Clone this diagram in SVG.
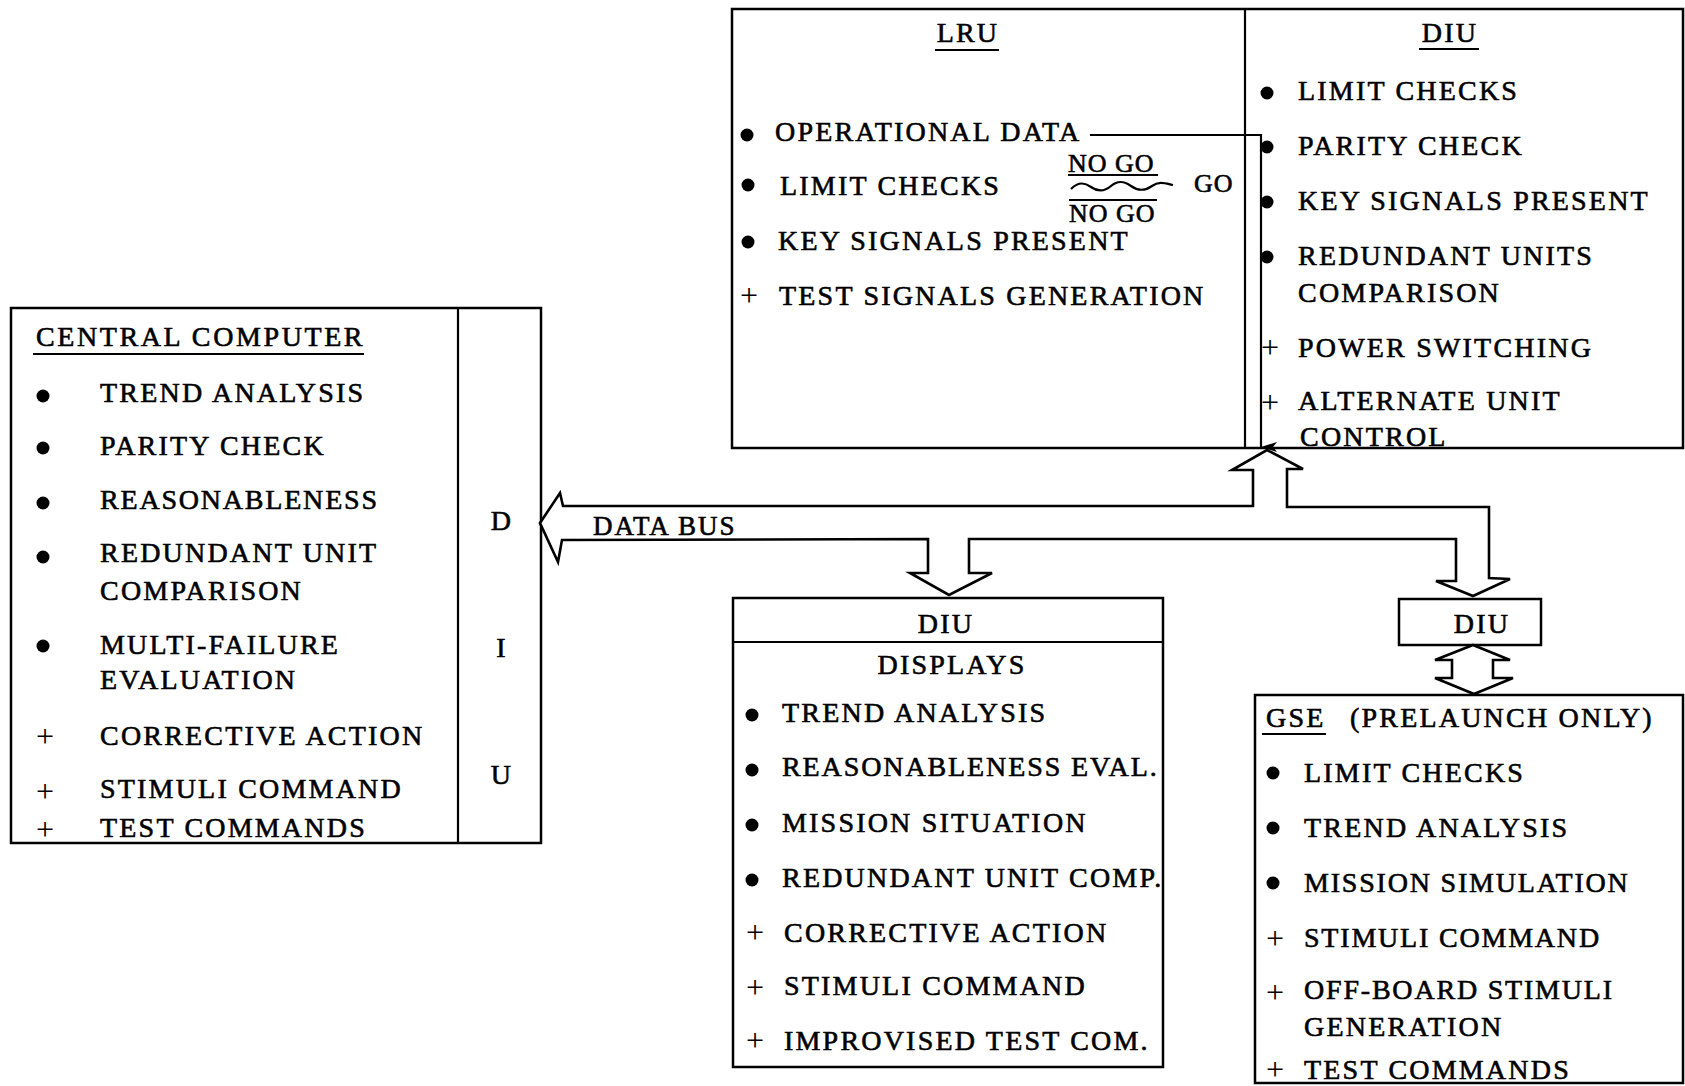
<svg xmlns="http://www.w3.org/2000/svg" width="1685" height="1086" viewBox="0 0 1685 1086">
<defs>
<style>
.t{font-family:"Liberation Serif","Times New Roman",serif;font-size:28px;letter-spacing:2.2px;fill:#000;stroke:#000;stroke-width:0.6px}
.s{font-size:26px;letter-spacing:1px}
.c{text-anchor:middle}
.p{font-family:"Liberation Serif",serif;font-size:32px;fill:#000;text-anchor:middle}
.box{fill:#fff;stroke:#000;stroke-width:2.5}
.ln{fill:none;stroke:#000;stroke-width:2.2}
.bus{fill:#fff;stroke:#000;stroke-width:2.6;stroke-linejoin:miter}
</style>
<marker id="ah" markerWidth="12" markerHeight="18" refX="6" refY="17" orient="auto-start-reverse" markerUnits="userSpaceOnUse" viewBox="0 0 12 18">
<path d="M6,17 L1,1 L6,5 L11,1 Z" fill="#000"/>
</marker>
</defs>
<rect width="1685" height="1086" fill="#fff"/>

<g id="node-lru-diu">
<rect class="box" x="732" y="9" width="951" height="439"/>
<line class="ln" x1="1245" y1="9" x2="1245" y2="448"/>
<g id="lru">
<text class="t c" x="968" y="42">LRU</text>
<line class="ln" x1="935" y1="50" x2="999" y2="50"/>
<circle cx="747" cy="135" r="6.5"/>
<text class="t" x="775" y="141">OPERATIONAL DATA</text>
<circle cx="748" cy="185" r="6.5"/>
<text class="t" x="780" y="195">LIMIT CHECKS</text>
<text class="t s" x="1068" y="172">NO GO</text>
<line class="ln" x1="1068" y1="175" x2="1158" y2="175"/>
<path class="ln" d="M1071,189 C1078,182 1084,182 1091,187 S1104,192 1111,186 S1124,181 1131,186 S1145,191 1152,186 S1164,183 1173,185"/>
<text class="t s" x="1194" y="192">GO</text>
<line class="ln" x1="1069" y1="200" x2="1157" y2="200"/>
<text class="t s" x="1069" y="222">NO GO</text>
<circle cx="748" cy="242" r="6.5"/>
<text class="t" x="778" y="250">KEY SIGNALS PRESENT</text>
<text class="p" x="749" y="306">+</text>
<text class="t" x="779" y="305">TEST SIGNALS GENERATION</text>
</g>
<g id="diu-top">
<text class="t c" x="1450" y="42">DIU</text>
<line class="ln" x1="1419" y1="49" x2="1479" y2="49"/>
<circle cx="1267" cy="93" r="6.5"/>
<text class="t" x="1298" y="100">LIMIT CHECKS</text>
<circle cx="1267" cy="147" r="6.5"/>
<text class="t" x="1298" y="155">PARITY CHECK</text>
<circle cx="1267" cy="202" r="6.5"/>
<text class="t" x="1298" y="210">KEY SIGNALS PRESENT</text>
<circle cx="1267" cy="257" r="6.5"/>
<text class="t" x="1298" y="265">REDUNDANT UNITS</text>
<text class="t" x="1298" y="302">COMPARISON</text>
<text class="p" x="1270" y="358">+</text>
<text class="t" x="1298" y="357">POWER SWITCHING</text>
<text class="p" x="1270" y="413">+</text>
<text class="t" x="1298" y="410">ALTERNATE UNIT</text>
<text class="t" x="1300" y="446">CONTROL</text>
</g>
</g>

<g id="node-central-computer">
<rect class="box" x="11" y="308" width="530" height="535"/>
<line class="ln" x1="458" y1="308" x2="458" y2="843"/>
<text class="t" x="36" y="346" style="letter-spacing:2.6px">CENTRAL COMPUTER</text>
<line class="ln" x1="33" y1="354" x2="364" y2="354"/>
<circle cx="43" cy="396" r="6.5"/>
<text class="t" x="100" y="402">TREND ANALYSIS</text>
<circle cx="43" cy="448" r="6.5"/>
<text class="t" x="100" y="455">PARITY CHECK</text>
<circle cx="43" cy="503" r="6.5"/>
<text class="t" x="100" y="509" style="letter-spacing:1.8px">REASONABLENESS</text>
<circle cx="43" cy="557" r="6.5"/>
<text class="t" x="100" y="562">REDUNDANT UNIT</text>
<text class="t" x="100" y="600">COMPARISON</text>
<circle cx="43" cy="646" r="6.5"/>
<text class="t" x="100" y="654">MULTI-FAILURE</text>
<text class="t" x="100" y="689">EVALUATION</text>
<text class="p" x="45" y="747">+</text>
<text class="t" x="100" y="745">CORRECTIVE ACTION</text>
<text class="p" x="45" y="802">+</text>
<text class="t" x="100" y="798">STIMULI COMMAND</text>
<text class="p" x="45" y="840">+</text>
<text class="t" x="100" y="837">TEST COMMANDS</text>
<text class="t c" x="502" y="530">D</text>
<text class="t c" x="502" y="657">I</text>
<text class="t c" x="502" y="784">U</text>
</g>

<g id="node-diu-displays">
<rect class="box" x="733" y="598" width="430" height="469"/>
<line class="ln" x1="733" y1="642" x2="1163" y2="642"/>
<text class="t c" x="946" y="633">DIU</text>
<text class="t c" x="952" y="674">DISPLAYS</text>
<circle cx="752" cy="715" r="6.5"/>
<text class="t" x="782" y="722">TREND ANALYSIS</text>
<circle cx="752" cy="770" r="6.5"/>
<text class="t" x="782" y="776" style="letter-spacing:1.9px">REASONABLENESS EVAL.</text>
<circle cx="752" cy="825" r="6.5"/>
<text class="t" x="782" y="832">MISSION SITUATION</text>
<circle cx="752" cy="880" r="6.5"/>
<text class="t" x="782" y="887">REDUNDANT UNIT COMP.</text>
<text class="p" x="755" y="943">+</text>
<text class="t" x="784" y="942">CORRECTIVE ACTION</text>
<text class="p" x="755" y="998">+</text>
<text class="t" x="784" y="995">STIMULI COMMAND</text>
<text class="p" x="755" y="1051">+</text>
<text class="t" x="784" y="1050">IMPROVISED TEST COM.</text>
</g>

<g id="node-diu-small">
<rect class="box" x="1399" y="599" width="142" height="46"/>
<text class="t c" x="1482" y="633">DIU</text>
</g>

<g id="node-gse">
<rect class="box" x="1255" y="695" width="428" height="388"/>
<text class="t" x="1266" y="727">GSE</text>
<line class="ln" x1="1262" y1="734" x2="1326" y2="734"/>
<text class="t" x="1350" y="727">(PRELAUNCH ONLY)</text>
<circle cx="1273" cy="773" r="6.5"/>
<text class="t" x="1304" y="782">LIMIT CHECKS</text>
<circle cx="1273" cy="828" r="6.5"/>
<text class="t" x="1304" y="837">TREND ANALYSIS</text>
<circle cx="1273" cy="883" r="6.5"/>
<text class="t" x="1304" y="892" style="letter-spacing:1.8px">MISSION SIMULATION</text>
<text class="p" x="1275" y="949">+</text>
<text class="t" x="1304" y="947" style="letter-spacing:1.8px">STIMULI COMMAND</text>
<text class="p" x="1275" y="1003">+</text>
<text class="t" x="1304" y="999" style="letter-spacing:1.8px">OFF-BOARD STIMULI</text>
<text class="t" x="1304" y="1036">GENERATION</text>
<text class="p" x="1275" y="1080">+</text>
<text class="t" x="1304" y="1079">TEST COMMANDS</text>
</g>

<g id="connectors">
<path class="bus" d="M540,523 L560,493 L563,506 L1253,506 L1253,470 L1232,470 L1267,450 L1303,469 L1287,469 L1287,507 L1489,507 L1489,578 L1510,579 L1473,596 L1436,581 L1456,581 L1456,539 L969,539 L969,573 L992,573 L949,595 L910,573 L928,573 L928,539 L562,540 L558,562 Z"/>
<text class="t" x="593" y="535" style="font-size:27px;letter-spacing:2px">DATA BUS</text>
<path class="bus" d="M1473,645 L1510,660 L1493,660 L1493,678 L1513,678 L1474,694 L1435,678 L1452,678 L1452,660 L1435,660 Z"/>
<path class="ln" d="M1090,135 L1261,135 L1261,447" marker-end="url(#ah)"/>
</g>
</svg>
